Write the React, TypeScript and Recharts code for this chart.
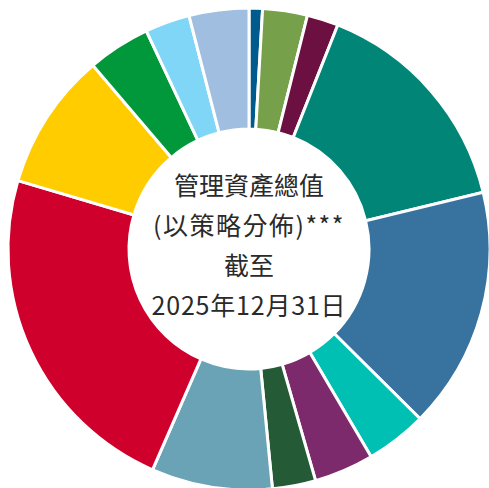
import { PieChart, Pie, Cell } from 'recharts';

const strategies = [
  'S1', 'S2', 'S3', 'S4', 'S5', 'S6', 'S7',
  'S8', 'S9', 'S10', 'S11', 'S12', 'S13', 'S14',
];
const shares = [0.9, 3.0, 2.1, 15.2, 16.2, 4.1, 4.0, 2.9, 8.1, 23.0, 9.2, 4.2, 3.0, 4.0];
const COLORS = [
  '#005a8c', '#76a04a', '#6b1040', '#008577', '#3873a0', '#00bfb3', '#7d2a6c',
  '#245a36', '#6aa3b6', '#d0002c', '#ffcc00', '#00983a', '#7fd6f7', '#a0bfe0',
];
const centerLines = ['管理資產總值', '(以策略分佈)***', '截至', '2025年12月31日'];
const lineSpacing = [0, 1.5, 0, 0.8];

const data = strategies.map((name, i) => ({ name, value: shares[i] }));

export default function App() {
  return (
    <div style={{ position: 'absolute', left: 0, top: 0, width: 489, height: 488 }}>
      <PieChart width={489} height={488} margin={{ top: 0, right: 0, bottom: 0, left: 0 }}>
        <Pie
          data={data}
          dataKey="value"
          nameKey="name"
          cx={249}
          cy={249}
          innerRadius={120}
          outerRadius={241}
          startAngle={90}
          endAngle={-270}
          stroke="#ffffff"
          strokeWidth={3}
          isAnimationActive={false}
        >
          {data.map((_, i) => (
            <Cell key={`cell-${i}`} fill={COLORS[i % COLORS.length]} />
          ))}
        </Pie>
      </PieChart>
      <div
        style={{
          position: 'absolute',
          left: 249 - 120,
          top: 164,
          width: 240,
          textAlign: 'center',
          fontFamily: '"Noto Sans CJK TC", "Noto Sans", sans-serif',
          fontSize: 25,
          lineHeight: '40px',
          color: '#2a2a2a',
        }}
      >
        {centerLines.map((line, i) => (
          <div key={i} style={{ letterSpacing: lineSpacing[i] }}>{line}</div>
        ))}
      </div>
    </div>
  );
}
